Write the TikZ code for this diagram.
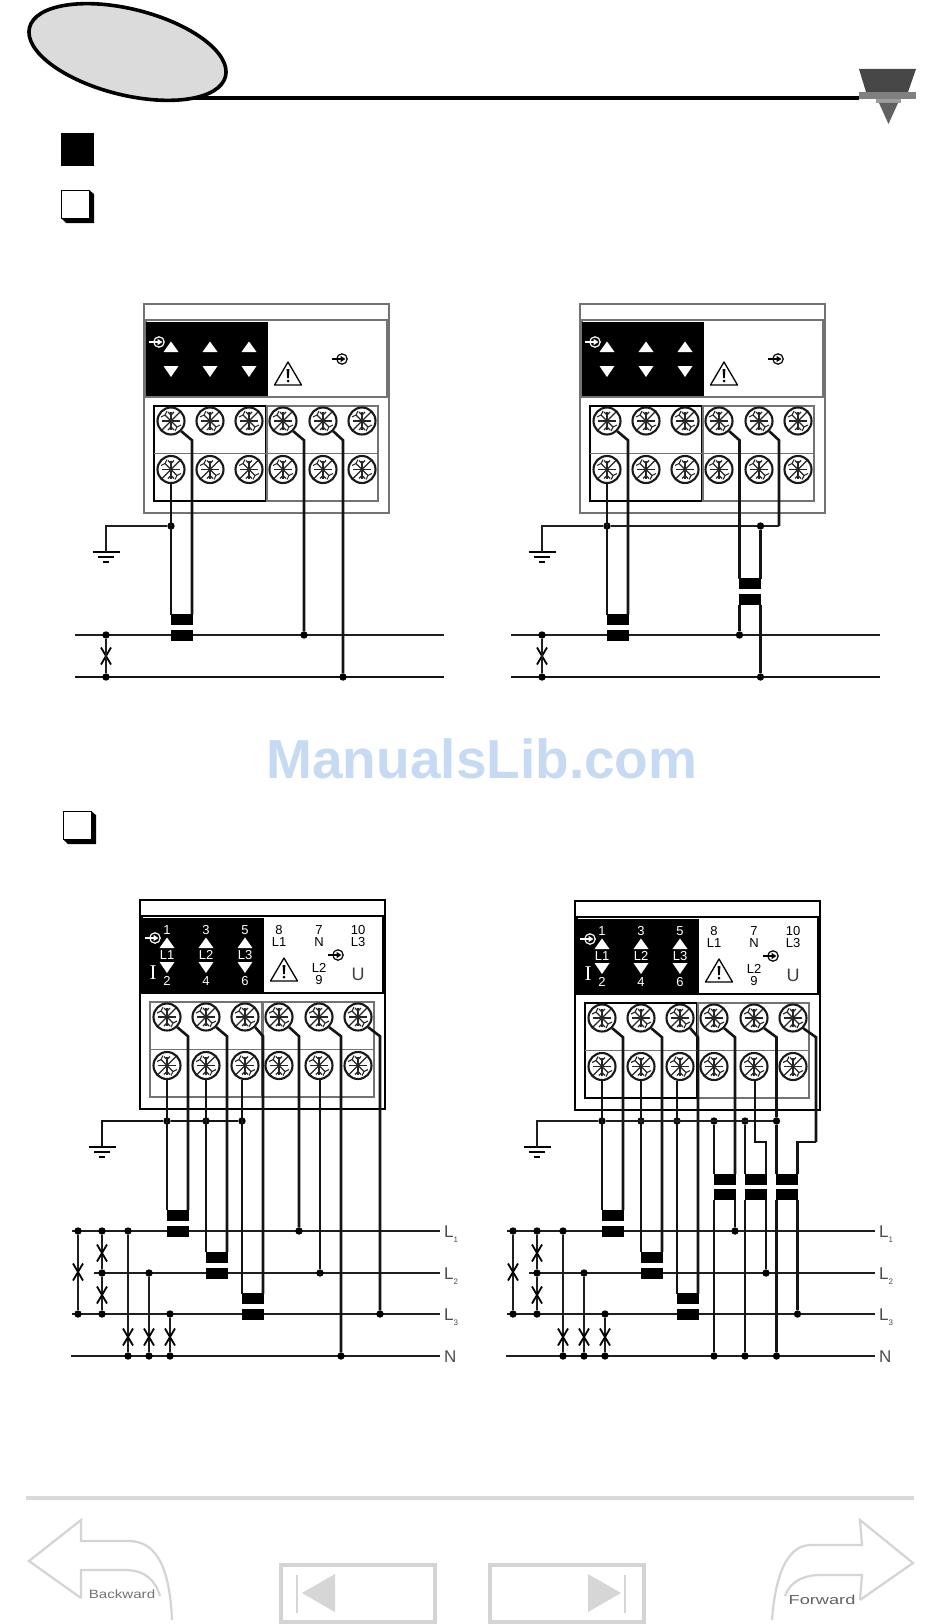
\documentclass[tikz,border=0pt]{standalone}
\usepackage{fontspec}
\setmainfont{Liberation Sans}
\newfontfamily\serifI{Liberation Serif}
\usetikzlibrary{calc,shapes.misc}
\definecolor{wm}{HTML}{C6DBF3}
\tikzset{
  wire/.style={line width=2.6pt,black!92,line join=miter},
  gline/.style={line width=2.2pt,black!88},
  navline/.style={draw=black!17,line width=3.2pt},
  ct/.style={rectangle,draw=black,fill=black,line width=1pt,minimum width=21pt,minimum height=10pt,inner sep=0pt,outer sep=0pt},
  jdot/.style={circle,fill=black,inner sep=0pt,minimum size=7.4pt,outer sep=0pt},
  fusex/.style={cross out,draw=black,line width=1.8pt,minimum width=10pt,minimum height=17pt,inner sep=0pt,outer sep=0pt},
  lab/.style={inner sep=0pt,font=\fontsize{13}{13}\selectfont},
  wlab/.style={lab,text=white},
  linelab/.style={anchor=west,inner sep=0pt,text=black!70,font=\fontsize{17}{18}\selectfont},
  screw/.style={circle,draw=black!90,fill=white,line width=2.1pt,minimum size=27pt,inner sep=0pt,outer sep=1pt,
    path picture={
      \begin{scope}[shift={(path picture bounding box.center)},line width=1.1pt,black!85]
        \draw (-9.5,9.5) -- (9.5,-9.5);
        \draw (0,-9) -- (0,9) (-9,0) -- (9,0);
        \draw (-6,-6) -- (6,6);
        \draw (6,6) -- (10,4) (6,6) -- (4,10) (-6,-6) -- (-10,-4) (-6,-6) -- (-4,-10);
        \draw (0,-6) -- (-3,-9) (0,-6) -- (3,-9) (0,6) -- (-3,9) (0,6) -- (3,9);
      \end{scope}}}
}
\newcommand\insym[3]{%
  \draw[#3,line width=1.2pt] (#1,#2) circle[radius=5.2pt];
  \draw[#3,line width=1.2pt] (#1-10,#2) -- (#1,#2);
  \fill[#3] (#1-1.5,#2-3.2) -- (#1+3.4,#2) -- (#1-1.5,#2+3.2) -- cycle;}
\newcommand\meter[3]{%
  \draw[draw=#1,fill=white,line width=1.1pt] (0,0) rectangle (245,209);
  \draw[draw=#1,fill=white,line width=1.1pt] (2,16) rectangle (243,93);
  \fill[black] (2,18) rectangle (124,92);
  \draw[draw=#2,line width=1.1pt] (10,102) rectangle (122,197);
  \draw[draw=#3,line width=1.1pt] (123,102) rectangle (234,197);
  \draw[draw=#3,line width=1pt] (10,149) -- (234,149);
  \foreach \i/\x in {1/27,2/66,3/105,4/139,5/179,6/218} {
    \node[screw] (S\i) at (\x,117) {};
    \node[screw] (B\i) at (\x,165.5) {};
  }
  \foreach \x in {27,66,105} {
    \fill[white] (\x,37.5) -- (\x+7.5,48) -- (\x-7.5,48) -- cycle;
    \fill[white] (\x-7.5,62) -- (\x+7.5,62) -- (\x,73) -- cycle;
  }
  \insym{15}{38}{white}
  \insym{198}{55}{black}
  \draw[black,line width=1.3pt,line join=round] (144,58) -- (157.5,81) -- (130.5,81) -- cycle;
  \fill[black] (142.6,65) -- (145.4,65) -- (144.8,74) -- (143.2,74) -- cycle;
  \fill[black] (144,77) circle[radius=1.5pt];
}
\newcommand\meterlabels{%
  \foreach \n/\x/\a/\b/\c in {p/27/1/L1/2,q/66/3/L2/4,r/105/5/L3/6} {
    \node[wlab] (t\n a) at (\x,30) {\a};
    \node[wlab] (t\n b) at (\x,55) {\b};
    \node[wlab] (t\n c) at (\x,81) {\c};
  }
  \node[inner sep=0pt,text=white,font=\serifI\fontsize{21}{21}\selectfont] (tI) at (13,73) {I};
  \node[lab] (tu1) at (139,30) {8};
  \node[lab] (tu2) at (139,42) {L1};
  \node[lab] (tu3) at (179,30) {7};
  \node[lab] (tu4) at (179,42) {N};
  \node[lab] (tu5) at (218,30) {10};
  \node[lab] (tu6) at (218,42) {L3};
  \node[lab] (tu7) at (179,68) {L2};
  \node[lab] (tu8) at (179,80) {9};
  \node[inner sep=0pt,text=black!75,font=\fontsize{18}{18}\selectfont] (tU) at (218,74) {U};
}
% wire from a terminal's lower-right side, 45 degrees then straight down to a target
\newcommand\twire[2]{\draw[wire] (#1.-45) -- ($(#2 |- #1.-45)+(0,9)$) -- (#2);}
\newcommand\ground[3]{%
  \coordinate (#1) at (#2,#3);
  \draw[line width=1.9pt,black] (#1) +(-13.5,0) -- +(13.5,0) +(-8,5) -- +(8,5) +(-3,10) -- +(3,10);}
\begin{document}
\begin{tikzpicture}[x=1pt,y=-1pt]
\useasboundingbox (0,0) rectangle (950,1624);
\fill[white] (0,0) rectangle (950,1624);
% ---------- header
\draw[line width=4pt,black] (185,98) -- (859,98);
\draw[fill=black!14,draw=black,line width=3.6pt,shift={(127.5,52)},rotate=-14] (0,0) ellipse[x radius=101pt,y radius=43pt];
\fill[black!72] (859,69) -- (916,69) -- (908,92) -- (866,92) -- cycle;
\fill[black!50] (859,92) rectangle (916,99);
\fill[black!38] (876,99) rectangle (901,103);
\fill[black!62] (879,103) -- (898,103) -- (888.5,124) -- cycle;
\fill[black] (61,133) rectangle (94,166);
\newcommand\hollow[2]{%
  \fill[black] (#1+28,#2) -- (#1+33,#2+4) -- (#1+33,#2+33) -- (#1+5,#2+33) -- (#1,#2+28) -- cycle;
  \draw[fill=white,draw=black,line width=1pt] (#1+.5,#2+.5) rectangle (#1+28,#2+28);}
\hollow{61}{190}
\hollow{63}{811}
\node[inner sep=0pt,text=wm,font=\bfseries\fontsize{55}{55}\selectfont] (watermark) at (482,759) {ManualsLib.com};
% ---------- diagram A
\begin{scope}[shift={(144,304)},name prefix=A-]
  \meter{black!55}{black}{black!55}
\end{scope}
\coordinate (A-La) at (75,635); \coordinate (A-Lb) at (444,635);
\coordinate (A-Na) at (75,677); \coordinate (A-Nb) at (444,677);
\draw[gline] (A-La) -- (A-Lb); \draw[wire] (A-Na) -- (A-Nb);
\node[ct] (A-Tu) at (181.5,619.5) {}; \node[ct] (A-Tl) at (181.5,635.5) {};
\node[jdot] (A-g1) at (171,526) {};
\node[jdot] (A-d1) at (106,635) {}; \node[jdot] (A-d2) at (106,677) {};
\node[jdot] (A-d3) at (304,635) {}; \node[jdot] (A-d4) at (343,677) {};
\node[fusex] (A-f1) at (106,656) {};
\twire{A-S1}{A-Tu.north east}
\draw[wire] (A-B1.south) -- (A-Tu.north west);
\ground{A-E}{106}{552}
\draw[gline] (A-g1) -| (A-E);
\draw[gline] (A-d1) -- (A-d2);
\twire{A-S4}{A-d3}
\twire{A-S5}{A-d4}
% ---------- diagram B
\begin{scope}[shift={(580,304)},name prefix=B-]
  \meter{black!55}{black}{black!55}
\end{scope}
\coordinate (B-La) at (511,635); \coordinate (B-Lb) at (880,635);
\coordinate (B-Na) at (511,677); \coordinate (B-Nb) at (880,677);
\draw[gline] (B-La) -- (B-Lb); \draw[wire] (B-Na) -- (B-Nb);
\node[ct] (B-Tu) at (617.5,619.5) {}; \node[ct] (B-Tl) at (617.5,635.5) {};
\node[ct] (B-Vu) at (750,583.5) {}; \node[ct] (B-Vl) at (750,599.5) {};
\node[jdot] (B-g1) at (607,526) {}; \node[jdot] (B-g2) at (760.5,526) {};
\coordinate (B-c) at (779,526);
\node[jdot] (B-d1) at (542,635) {}; \node[jdot] (B-d2) at (542,677) {};
\node[jdot] (B-d3) at (739.5,635) {}; \node[jdot] (B-d4) at (760.5,677) {};
\node[fusex] (B-f1) at (542,656) {};
\twire{B-S1}{B-Tu.north east}
\draw[wire] (B-B1.south) -- (B-Tu.north west);
\ground{B-E}{542}{552}
\twire{B-S5}{B-c}
\draw[gline] (B-c) -- (B-g2) -- (B-g1) -| (B-E);
\draw[gline] (B-d1) -- (B-d2);
\twire{B-S4}{B-Vu.north west}
\draw[wire] (B-g2) -- (B-Vu.north east);
\draw[wire] (B-Vl.south west) -- (B-d3);
\draw[wire] (B-Vl.south east) -- (B-d4);
% ---------- common three-phase supply
\newcommand\supply[2]{% prefix, x offset
  \coordinate (#1L1a) at (72+#2,1231); \coordinate (#1L1b) at (440+#2,1231);
  \coordinate (#1L2a) at (94+#2,1273); \coordinate (#1L2b) at (440+#2,1273);
  \coordinate (#1L3a) at (72+#2,1314); \coordinate (#1L3b) at (440+#2,1314);
  \coordinate (#1Na) at (71+#2,1356);  \coordinate (#1Nb) at (440+#2,1356);
  \draw[gline] (#1L1a) -- (#1L1b);
  \draw[gline] (#1L2a) -- (#1L2b);
  \draw[gline] (#1L3a) -- (#1L3b);
  \draw[gline] (#1Na) -- (#1Nb);
  \node[linelab] (#1tL1) at (444+#2,1234) {L\raisebox{-.3em}{\fontsize{8}{8}\selectfont 1}};
  \node[linelab] (#1tL2) at (444+#2,1276) {L\raisebox{-.3em}{\fontsize{8}{8}\selectfont 2}};
  \node[linelab] (#1tL3) at (444+#2,1317) {L\raisebox{-.3em}{\fontsize{8}{8}\selectfont 3}};
  \node[linelab] (#1tN) at (444+#2,1357) {N};
  \node[jdot] (#1a1) at (78+#2,1231) {}; \node[jdot] (#1a3) at (78+#2,1314) {};
  \node[jdot] (#1b1) at (102+#2,1231) {}; \node[jdot] (#1b2) at (102+#2,1273) {}; \node[jdot] (#1b3) at (102+#2,1314) {};
  \node[jdot] (#1c1) at (128+#2,1231) {}; \node[jdot] (#1c2) at (128+#2,1356) {};
  \node[jdot] (#1e1) at (149+#2,1273) {}; \node[jdot] (#1e2) at (149+#2,1356) {};
  \node[jdot] (#1h1) at (170+#2,1314) {}; \node[jdot] (#1h2) at (170+#2,1356) {};
  \draw[gline] (#1a1) -- (#1a3);
  \draw[gline] (#1b1) -- (#1b2) -- (#1b3);
  \draw[gline] (#1c1) -- (#1c2);
  \draw[gline] (#1e1) -- (#1e2);
  \draw[gline] (#1h1) -- (#1h2);
  \node[fusex] (#1fa) at (78+#2,1272) {};
  \node[fusex] (#1fb) at (102+#2,1253) {};
  \node[fusex] (#1fc) at (102+#2,1295) {};
  \node[fusex] (#1fd) at (128+#2,1337) {};
  \node[fusex] (#1fe) at (149+#2,1337) {};
  \node[fusex] (#1ff) at (170+#2,1337) {};
  \node[ct] (#1T1u) at (177.5+#2,1215) {}; \node[ct] (#1T1l) at (177.5+#2,1231) {};
  \node[ct] (#1T2u) at (216.5+#2,1257) {}; \node[ct] (#1T2l) at (216.5+#2,1273) {};
  \node[ct] (#1T3u) at (252.5+#2,1298.5) {}; \node[ct] (#1T3l) at (252.5+#2,1314.5) {};
  \node[jdot] (#1g1) at (167+#2,1121) {};
  \node[jdot] (#1g2) at (206+#2,1121) {};
  \node[jdot] (#1g3) at (242+#2,1121) {};
  \ground{#1E}{102+#2}{1147}
  \twire{#1S1}{#1T1u.north east}
  \twire{#1S2}{#1T2u.north east}
  \twire{#1S3}{#1T3u.north east}
  \draw[wire] (#1B1.south) -- (#1T1u.north west);
  \draw[wire] (#1B2.south) -- (#1T2u.north west);
  \draw[wire] (#1T3u.north west |- #1B3.south) -- (#1T3u.north west);
}
% ---------- diagram C
\begin{scope}[shift={(140,900)},name prefix=C-]
  \meter{black}{black!55}{black!55}
  \meterlabels
\end{scope}
\supply{C-}{0}
\draw[wire] (C-g3) -- (C-g1) -| (C-E);
\node[jdot] (C-m1) at (299,1231) {};
\node[jdot] (C-m2) at (320,1273) {};
\node[jdot] (C-m3) at (341,1356) {};
\node[jdot] (C-m4) at (380,1314) {};
\twire{C-S4}{C-m1}
\draw[wire] (C-B5.south -| C-m2) -- (C-m2);
\twire{C-S5}{C-m3}
\twire{C-S6}{C-m4}
% ---------- diagram D
\begin{scope}[shift={(575,901)},name prefix=D-]
  \meter{black}{black}{black!55}
  \meterlabels
\end{scope}
\supply{D-}{435}
\node[jdot] (D-g4) at (714,1121) {};
\node[jdot] (D-g5) at (745,1121) {};
\node[jdot] (D-g6) at (776.5,1121) {};
\draw[gline] (D-g6) -- (D-g1) -| (D-E);
\node[ct] (D-T4u) at (724.5,1179) {}; \node[ct] (D-T4l) at (724.5,1194.5) {};
\node[ct] (D-T5u) at (755.5,1179) {}; \node[ct] (D-T5l) at (755.5,1194.5) {};
\node[ct] (D-T6u) at (787,1179) {}; \node[ct] (D-T6l) at (787,1194.5) {};
\node[jdot] (D-n4) at (714,1356) {}; \node[jdot] (D-n5) at (745,1356) {}; \node[jdot] (D-n6) at (776.5,1356) {};
\node[jdot] (D-l1) at (735,1231) {}; \node[jdot] (D-l2) at (766,1273) {}; \node[jdot] (D-l3) at (797.5,1314) {};
\coordinate (D-j5) at (755,1142);
\coordinate (D-j6) at (816,1142);
\twire{D-S4}{D-T4u.north east}
\twire{D-S5}{D-g6}
\twire{D-S6}{D-j6}
\draw[wire] (D-g4) -- (D-T4u.north west);
\draw[wire] (D-g5) -- (D-T5u.north west);
\draw[wire] (D-g6) -- (D-T6u.north west);
\draw[wire] (D-j5 |- D-B5.south) -- (D-j5) -| (D-T5u.north east);
\draw[wire] (D-j6) -| (D-T6u.north east);
\draw[wire] (D-T4l.south west) -- (D-n4);
\draw[wire] (D-T5l.south west) -- (D-n5);
\draw[wire] (D-T6l.south west) -- (D-n6);
\draw[wire] (D-T4l.south east) -- (D-l1);
\draw[wire] (D-T5l.south east) -- (D-l2);
\draw[wire] (D-T6l.south east) -- (D-l3);
% ---------- navigation bar
\draw[line width=3.6pt,black!15] (26,1498) -- (914,1498);
\draw[navline] (281,1565) rectangle (435,1622);
\draw[navline] (490,1565) rectangle (644,1622);
\fill[black!16] (335,1574) -- (302,1593) -- (335,1612) -- cycle;
\draw[black!16,line width=1.8pt] (297,1575) -- (297,1613);
\fill[black!16] (588,1574) -- (621,1593) -- (588,1612) -- cycle;
\draw[black!16,line width=1.8pt] (625,1575) -- (625,1613);
\draw[navline,line width=2.2pt] (81,1598) -- (29,1561) -- (81,1520) -- (81,1541) -- (130,1541) .. controls (160,1542) and (170,1575) .. (172,1620);
\draw[navline,line width=2.2pt] (81,1598) -- (81,1570) -- (125,1570) .. controls (145,1570) and (155,1580) .. (160,1596);
\draw[navline,line width=2.2pt] (860,1600) -- (913,1563) -- (860,1520) -- (862,1545) -- (810,1545) .. controls (785,1546) and (775,1580) .. (772,1620);
\draw[navline,line width=2.2pt] (860,1600) -- (862,1575) -- (820,1575) .. controls (803,1575) and (790,1582) .. (785,1596);
\node[inner sep=0pt,text=black!55,font=\fontsize{12}{12}\selectfont] (navback) at (122,1594) {\scalebox{1.26}[1]{Backward}};
\node[inner sep=0pt,text=black!62,font=\fontsize{13}{13}\selectfont] (navfwd) at (822,1600) {\scalebox{1.4}[1]{Forward}};
\end{tikzpicture}
\end{document}
